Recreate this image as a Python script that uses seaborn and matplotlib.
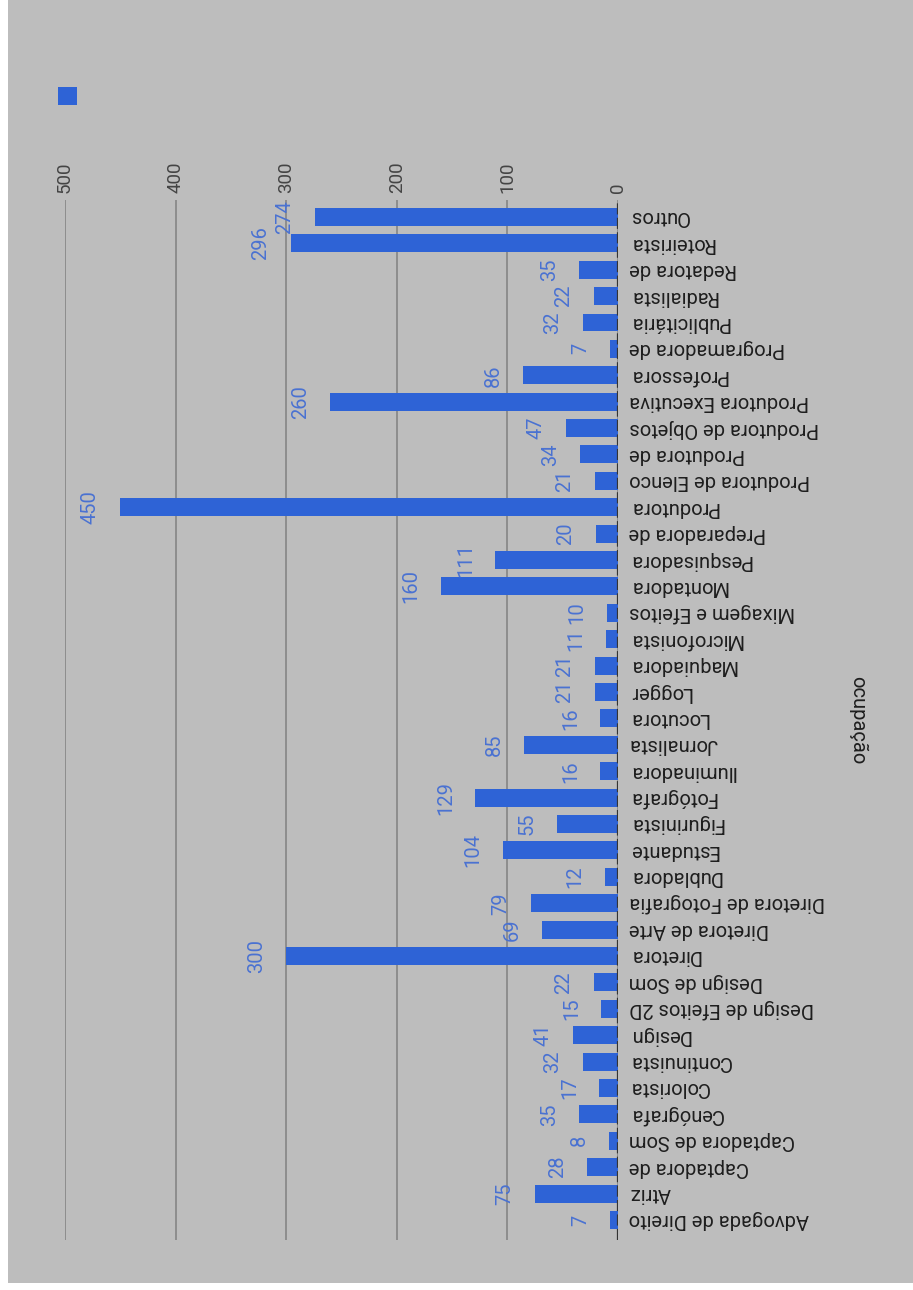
import matplotlib
matplotlib.use("Agg")
import matplotlib.pyplot as plt
from matplotlib.patches import Rectangle
import seaborn as sns
import pandas as pd

# Occupations (top to bottom) and their counts
categories = [
    "Outros", "Roteirista", "Redatora de", "Radialista", "Publicitária",
    "Programadora de", "Professora", "Produtora Executiva", "Produtora de Objetos",
    "Produtora de", "Produtora de Elenco", "Produtora", "Preparadora de",
    "Pesquisadora", "Montadora", "Mixagem e Efeitos", "Microfonista", "Maquiadora",
    "Logger", "Locutora", "Jornalista", "Iluminadora", "Fotógrafa", "Figurinista",
    "Estudante", "Dubladora", "Diretora de Fotografia", "Diretora de Arte",
    "Diretora", "Design de Som", "Design de Efeitos 2D", "Design", "Continuista",
    "Colorista", "Cenógrafa", "Captadora de Som", "Captadora de", "Atriz",
    "Advogada de Direito",
]
counts = [
    274, 296, 35, 22, 32,
    7, 86, 260, 47,
    34, 21, 450, 20,
    111, 160, 10, 11, 21,
    21, 16, 85, 16, 129, 55,
    104, 12, 79, 69,
    300, 22, 15, 41, 32,
    17, 35, 8, 28, 75,
    7,
]
value_ticks = [0, 100, 200, 300, 400, 500]

df = pd.DataFrame({"ocupação": categories, "total": counts})

BG = "#bdbdbd"
BAR = "#2e63d6"
LABEL_BLUE = "#4a72d2"

sns.set_theme(style="white")
plt.rcParams["font.family"] = ["Roboto", "DejaVu Sans"]

W, H = 913, 1290
fig = plt.figure(figsize=(W / 100, H / 100), dpi=100, facecolor="white")
fig.add_artist(Rectangle((8 / W, 7 / H), 1 - 8 / W, 1 - 7 / H,
                         transform=fig.transFigure, facecolor=BG,
                         edgecolor="none", zorder=-10))

ax = fig.add_axes([65 / W, 50 / H, 553 / W, 1040 / H])
ax.set_facecolor(BG)

sns.barplot(data=df, x="total", y="ocupação", orient="h", color=BAR,
            saturation=1, width=0.68, ax=ax, zorder=3,
            edgecolor="none", linewidth=0)

ax.set_xlim(500, 0)
ax.set_ylim(len(categories) - 1 + 0.76, -0.64)

# value axis: ticks on top, rotated
ax.set_xticks(value_ticks)
ax.set_xticklabels([str(v) for v in value_ticks], rotation=90,
                   fontsize=13.5, color="#444444")
ax.xaxis.tick_top()
ax.tick_params(axis="x", length=0, pad=5)
ax.grid(axis="x", color="#8a8a8a", linewidth=1.3, zorder=0)
ax.grid(axis="y", visible=False)

# category axis on the right, labels upside down
ax.yaxis.tick_right()
ax.yaxis.set_label_position("right")
ax.tick_params(axis="y", length=0, pad=8)
for lab in ax.get_yticklabels():
    lab.set_rotation(180)
    lab.set_fontsize(14.5)
    lab.set_color("#1e1e1e")
    lab.set_ha("left")
    lab.set_va("center")
ax.set_ylabel("ocupação", rotation=270, fontsize=14.5, color="#1e1e1e",
              labelpad=17, va="bottom")
ax.set_xlabel("")

for s in ax.spines.values():
    s.set_visible(False)

# baseline at zero
ax.axvline(0, color="#333333", linewidth=1.6, linestyle=(0, (5, 1.5)), zorder=4)

# value labels next to each bar end
for i, v in enumerate(counts):
    xpos = v + 27
    ypos = i
    if xpos > 480:
        xpos = v - 2
        ypos = i + 0.5
    ax.text(xpos, ypos, str(v), rotation=90, ha="center", va="center",
            fontsize=14.5, color=LABEL_BLUE, zorder=5)

# legend swatch
fig.add_artist(Rectangle((58 / W, 1 - 105 / H), 19 / W, 18 / H,
                         transform=fig.transFigure, facecolor=BAR,
                         edgecolor="none"))

fig.savefig("out.png", dpi=100, facecolor=fig.get_facecolor())
